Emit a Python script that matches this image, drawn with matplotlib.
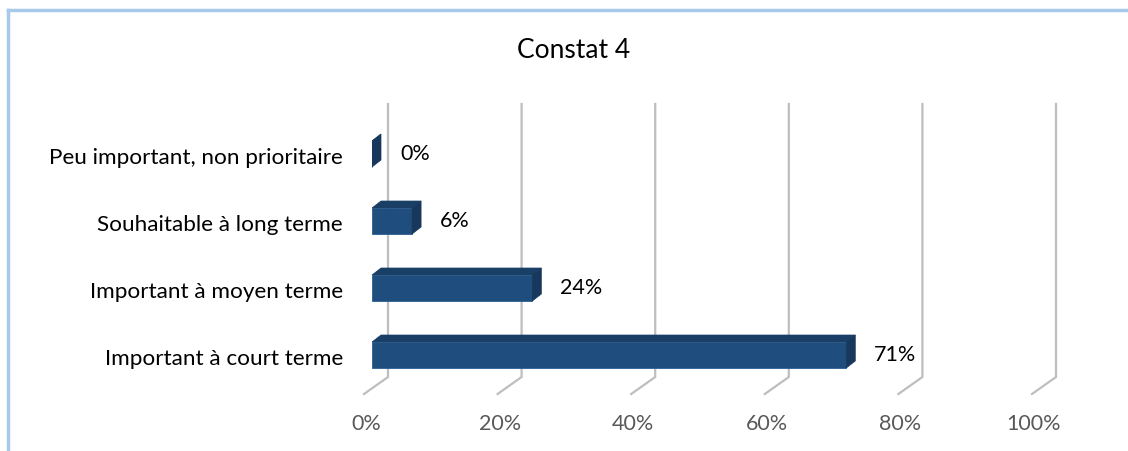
import numpy as np
import matplotlib.pyplot as plt
from matplotlib.patches import Polygon

plt.rcParams['font.family'] = ['Lato', 'DejaVu Sans']

# data
categories = ['Important à court terme', 'Important à moyen terme',
              'Souhaitable à long terme', 'Peu important, non prioritaire']
values = [71, 24, 6, 0]
ticks = [0, 20, 40, 60, 80, 100]
tick_labels = ['0%', '20%', '40%', '60%', '80%', '100%']
title = 'Constat 4'

W, H = 1128, 451
fig = plt.figure(figsize=(W / 100, H / 100), dpi=100)

# axes placed in pixels: x 0..100 -> 372..1040, category i centre at 355 - 67*i
x0px, x1px = 372, 1040
ytop, ybot = 100, 400
ax = fig.add_axes([x0px / W, (H - ybot) / H, (x1px - x0px) / W, (ybot - ytop) / H])
sx = (x1px - x0px) / 100.0   # px per %
sy = 67.0                     # px per category
ax.set_xlim(0, 100)
ax.set_ylim(-(ybot - 355) / sy, (355 - ytop) / sy)
ax.axis('off')

# border of the chart area
fig.add_artist(plt.Line2D([8 / W, 8 / W], [0, 1 - 10 / H], color='#A9C9EA', lw=2.5))
fig.add_artist(plt.Line2D([8 / W, 1], [1 - 10 / H, 1 - 10 / H], color='#A9C9EA', lw=2.5))

# back wall gridlines + floor diagonal
back = 16 / sx
g_top = (355 - 104) / sy
g_bot = (355 - 377) / sy
fl_x = -8 / sx
fl_y = (355 - 394) / sy
for t in ticks:
    ax.plot([t + back, t + back, t + fl_x], [g_top, g_bot, fl_y],
            color='#BEBEBE', lw=1.6, clip_on=False, zorder=1,
            solid_joinstyle='miter')

# 3d-ish bars
h = 26 / sy
dx = 9 / sx
dy = 7 / sy
pos = np.arange(len(categories))
ax.barh(pos, values, height=h, color='#1F4E7E', edgecolor='#2A5F94',
        linewidth=0.6, zorder=3)
for i, v in enumerate(values):
    yt = i + h / 2
    yb = i - h / 2
    top = Polygon([(0, yt), (v, yt), (v + dx, yt + dy), (dx, yt + dy)],
                  closed=True, facecolor='#1A3F66', edgecolor='#1A3F66',
                  lw=0.5, zorder=3)
    side = Polygon([(v, yb), (v + dx, yb + dy), (v + dx, yt + dy), (v, yt)],
                   closed=True, facecolor='#17385C', edgecolor='#17385C',
                   lw=0.5, zorder=3)
    ax.add_patch(top)
    ax.add_patch(side)
    ax.text(v + 28 / sx, i, f'{v}%', ha='left', va='center',
            fontsize=15.5, color='#000000')
    ax.text(-29 / sx, i - 4 / sy, categories[i], ha='right', va='center',
            fontsize=16.2, color='#000000', clip_on=False)

for t, lab in zip(ticks, tick_labels):
    ax.text(t - 6 / sx, (355 - 424) / sy, lab, ha='center', va='center',
            fontsize=15.5, color='#595959', clip_on=False)

fig.text(574 / W, 1 - 50 / H, title, ha='center', va='center', fontsize=19,
         color='#000000')

fig.savefig('out.png', dpi=100, facecolor='white')
